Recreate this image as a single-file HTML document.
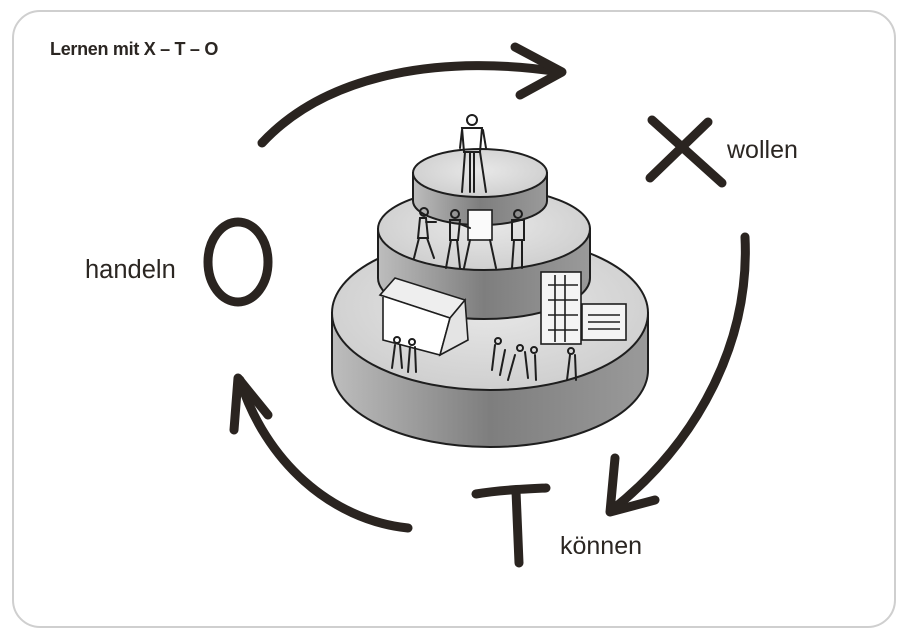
<!DOCTYPE html>
<html><head><meta charset="utf-8"><style>
html,body{margin:0;padding:0;background:#fff;}
body{width:910px;height:641px;position:relative;overflow:hidden;font-family:"Liberation Sans",sans-serif;}
.card{position:absolute;left:12px;top:10px;width:884px;height:618px;border:2px solid #cfcfcf;border-radius:28px;box-sizing:border-box;}
.t{position:absolute;color:#2b2622;}
</style></head><body>
<div class="card"></div>
<div class="t" style="left:50px;top:39px;font-size:18px;font-weight:bold;letter-spacing:-0.3px">Lernen mit X – T – O</div>
<div class="t" style="left:727px;top:136px;font-size:25px">wollen</div>
<div class="t" style="left:85px;top:256px;font-size:25.5px">handeln</div>
<div class="t" style="left:560px;top:532px;font-size:25px">können</div>
<svg width="910" height="641" style="position:absolute;left:0;top:0">
<defs>
<linearGradient id="side" x1="0" x2="1" y1="0" y2="0">
<stop offset="0" stop-color="#bdbdbd"/><stop offset="0.5" stop-color="#7e7e7e"/><stop offset="1" stop-color="#9a9a9a"/></linearGradient>
<radialGradient id="top" cx="0.5" cy="0.45" r="0.6"><stop offset="0" stop-color="#e8e8e8"/><stop offset="1" stop-color="#cdcdcd"/></radialGradient>
</defs>
<g fill="none" stroke="#2a2420" stroke-width="9" stroke-linecap="round" stroke-linejoin="round">
<path d="M262 143 C330 70 450 55 560 72"/>
<path d="M515 47 L562 72 L520 95"/>
<path d="M745 237 C750 340 700 440 612 510"/>
<path d="M615 458 L610 512 L655 500"/>
<path d="M408 528 C330 520 265 460 240 380"/>
<path d="M234 430 L238 378 L268 415"/>
<path d="M652 120 L722 183 M708 122 L650 178"/>
<ellipse cx="238" cy="262" rx="30" ry="40"/>
<path d="M476 494 C500 490 525 489 546 488 M516 491 L519 563"/>
</g>
<g stroke="#1e1e1e" stroke-width="2">
<path d="M332 313 L332 370 A158 77 0 0 0 648 370 L648 313 Z" fill="url(#side)"/>
<ellipse cx="490" cy="313" rx="158" ry="77" fill="url(#top)"/>
<path d="M378 229 L378 278 A106 41 0 0 0 590 278 L590 229 Z" fill="url(#side)"/>
<ellipse cx="484" cy="229" rx="106" ry="41" fill="url(#top)"/>
<path d="M413 173 L413 201 A67 24 0 0 0 547 201 L547 173 Z" fill="url(#side)"/>
<ellipse cx="480" cy="173" rx="67" ry="24" fill="url(#top)"/>
</g>
<g stroke="#1e1e1e" stroke-width="1.6" fill="#fff">
<path d="M380 295 L395 278 L465 300 L450 318 Z" fill="#eee"/>
<path d="M383 297 L383 340 L440 355 L450 318 L380 295"/>
<path d="M450 318 L465 300 L468 340 L440 355 Z" fill="#e4e4e4"/>
<rect x="541" y="272" width="40" height="72" fill="#f4f4f4"/>
<path d="M548 285 H578 M548 300 H578 M548 315 H578 M548 330 H578 M555 275 V342 M565 275 V342" fill="none"/>
<rect x="582" y="304" width="44" height="36" fill="#f4f4f4"/>
<path d="M588 315 H620 M588 322 H620 M588 329 H620" fill="none"/>
<rect x="468" y="210" width="24" height="30" fill="#fafafa"/>
</g>
<g stroke="#1e1e1e" stroke-width="2" fill="none" stroke-linecap="round">
<circle cx="472" cy="120" r="5" fill="#fff"/>
<path d="M462 128 L482 128 L480 152 L464 152 Z M465 152 L462 192 M470 152 L470 192 M474 152 L474 192 M480 152 L486 192 M462 130 L460 148 M483 130 L486 148"/>
<circle cx="424" cy="212" r="4"/><path d="M420 218 L426 218 L428 238 L418 238 Z M419 238 L414 258 M427 238 L434 258 M426 222 L436 222"/>
<circle cx="455" cy="214" r="4"/><path d="M450 220 L460 220 L458 240 L450 240 Z M451 240 L446 268 M457 240 L460 268 M460 224 L470 228"/>
<path d="M470 240 L464 268 M490 240 L496 268"/>
<circle cx="518" cy="214" r="4"/><path d="M512 220 L524 220 L524 240 L512 240 Z M514 240 L512 268 M522 240 L522 268"/>
<path d="M395 345 L392 368 M400 345 L402 368 M410 347 L408 372 M415 347 L416 372"/>
<circle cx="397" cy="340" r="3"/><circle cx="412" cy="342" r="3"/>
<path d="M495 345 L492 370 M505 350 L500 375 M515 355 L508 380 M525 352 L528 378 M535 355 L536 380 M570 355 L567 380 M575 355 L576 380"/>
<circle cx="498" cy="341" r="3"/><circle cx="520" cy="348" r="3"/><circle cx="534" cy="350" r="3"/><circle cx="571" cy="351" r="3"/>
</g>
</svg>
</body></html>
